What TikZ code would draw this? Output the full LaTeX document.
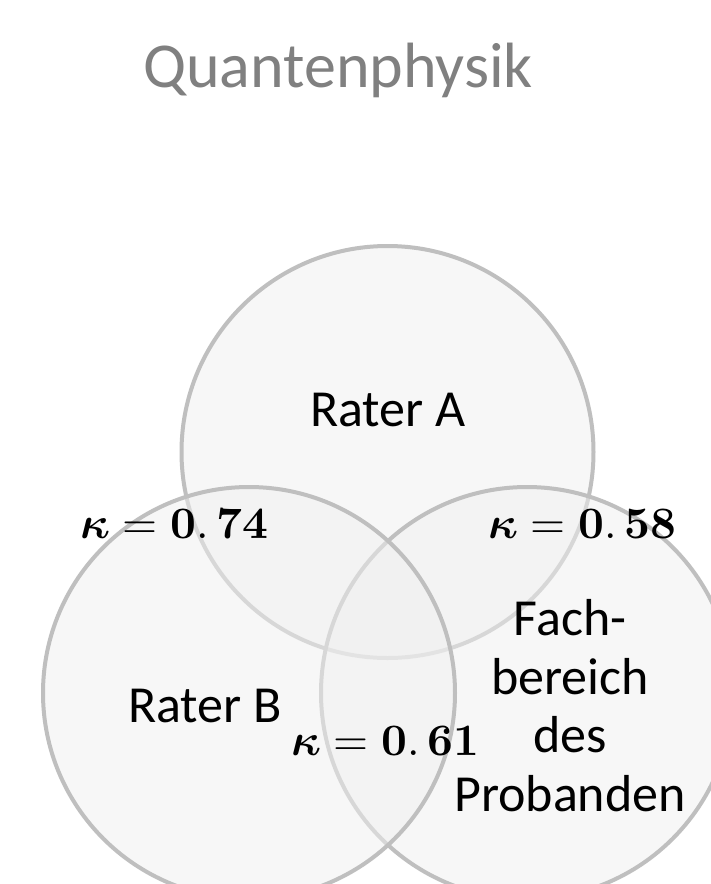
\documentclass[tikz,border=0pt]{standalone}
\usepackage{fontspec}
\setmainfont{Carlito}
\usepackage{amsmath}
\usepackage{unicode-math}
\setmathfont{Latin Modern Math}
\begin{document}
\begin{tikzpicture}[x=1pt,y=-1pt,
  venn/.style={draw=black!25,line width=4pt,fill=black!6,fill opacity=0.5},
  lbl/.style={font=\fontsize{52}{58.7}\selectfont,text=black,anchor=base,inner sep=0pt,align=center},
  kap/.style={font=\fontsize{45}{50}\selectfont,text=black,anchor=base west,inner sep=0pt}]
\useasboundingbox (0,0) rectangle (711,884);
\fill[white] (0,0) rectangle (711,884);
\begin{scope}
\clip (0,0) rectangle (711,884);
\draw[venn] (387.5,452) circle[radius=206];
\draw[venn] (527,693) circle[radius=206];
\draw[venn] (249,693) circle[radius=206];
\end{scope}
\node[anchor=base west,inner sep=0pt,text=black!50,font=\fontsize{64}{70}\selectfont] (title) at (143,87) {Quantenphysik};
\node[lbl] (ra) at (388,426) {Rater A};
\node[lbl] (rb) at (205,722) {Rater B};
\node[lbl,anchor=north] (fach) at (570,599) {Fach-\\bereich\\des\\Probanden};
\node[kap] (k1) at (80,538) {$\symbf{\kappa} = \symbf{0.\,74}$};
\node[kap] (k2) at (488,538) {$\symbf{\kappa} = \symbf{0.\,58}$};
\node[kap] (k3) at (291,755) {$\symbf{\kappa} = \symbf{0.\,61}$};
\end{tikzpicture}
\end{document}
